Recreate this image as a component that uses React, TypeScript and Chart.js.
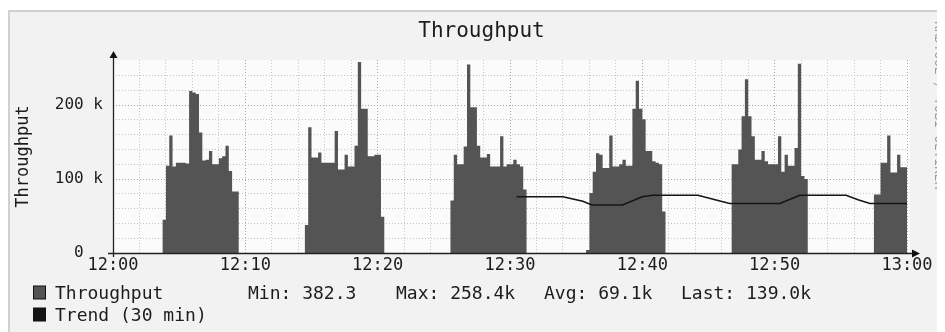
import { useEffect, useRef } from 'react';
import { Chart, registerables } from 'chart.js';

Chart.register(...registerables);

// ---- data ----
const STEP_MINUTES = 0.25; // 15 s samples from 12:00
const throughputK = [
  0, 0, 0, 0, 0, 0, 0, 0, 0, 0, 0, 0, 0, 0, 0, 0, 45, 118, 159, 117,
  122, 122, 122, 121, 219, 217, 215, 163, 125, 126, 138, 120, 120, 128, 131, 145, 111, 83, 83, 0,
  0, 0, 0, 0, 0, 0, 0, 0, 0, 0, 0, 0, 0, 0, 0, 0, 0, 0, 0, 38,
  170, 129, 129, 136, 122, 122, 122, 122, 165, 113, 113, 133, 117, 117, 145, 258.4, 195, 195, 131, 131,
  133, 133, 49, 0, 0, 0, 0, 0, 0, 0, 0, 0, 0, 0, 0, 0, 0, 0, 0, 0,
  0, 0, 0, 71, 133, 120, 120, 144, 255, 197, 197, 145, 129, 129, 134, 117, 117, 117, 158, 117,
  120, 120, 126, 120, 117, 86, 0, 0, 0, 0, 0, 0, 0, 0, 0, 0, 0, 0, 0, 0,
  0, 0, 0, 0, 4, 81, 110, 135, 133, 115, 115, 159, 117, 117, 120, 126, 118, 118, 195, 233,
  195, 181, 138, 138, 124, 122, 120, 56, 0, 0, 0, 0, 0, 0, 0, 0, 0, 0, 0, 0,
  0, 0, 0, 0, 0, 0, 0, 0, 120, 120, 140, 185, 235, 185, 158, 126, 126, 138, 124, 120,
  120, 120, 158, 110, 133, 118, 118, 142, 256, 104, 100, 0, 0, 0, 0, 0, 0, 0, 0, 0,
  0, 0, 0, 0, 0, 0, 0, 0, 0, 0, 0, 79, 79, 122, 122, 159, 109, 109, 133, 116,
  116,
];
const trendMinutes = [30.5, 34.0, 35.5, 36.2, 38.5, 40.0, 40.8, 44.2, 45.5, 46.6, 50.4, 51.9, 55.4, 56.3, 57.2, 60];
const trendK = [76, 76, 70, 65, 65, 76, 78, 78, 72, 67, 67, 78, 78, 72, 67, 67];

const xTickLabels = ['12:00', '12:10', '12:20', '12:30', '12:40', '12:50', '13:00'];
const yTickLabels = ['0  ', '100 k', '200 k'];
const chartTitle = 'Throughput';
const yAxisTitle = 'Throughput';
const seriesNames = ['Throughput', 'Trend (30 min)'];
const statLabels = ['Min: 382.3', 'Max: 258.4k', 'Avg: 69.1k', 'Last: 139.0k'];
const watermark = 'RRDTOOL / TOBI OETIKER';

// ---- styles ----
const MONO = '"DejaVu Sans Mono", monospace';
const AREA_COLOR = '#545454';
const TREND_COLOR = '#141414';
const TEXT_COLOR = '#1c1c1c';
const W = 937;
const H = 324;

const isMultiple = (v: number, m: number) => Math.abs(v / m - Math.round(v / m)) < 1e-6;

const decorPlugin = {
  id: 'decor',
  beforeDraw(chart: any) {
    const { ctx, chartArea: a } = chart;
    ctx.save();
    ctx.fillStyle = '#ffffff';
    ctx.fillRect(0, 0, W, H);
    ctx.fillStyle = '#f2f2f2';
    ctx.fillRect(0, 2, W, H - 2);
    ctx.fillStyle = '#d0d0d0';
    ctx.fillRect(0, 2, W, 2);
    ctx.fillRect(0, 2, 2, H - 2);
    ctx.fillStyle = '#fbfbfb';
    ctx.fillRect(a.left, a.top, a.right - a.left + 3, a.bottom - a.top);
    ctx.restore();
  },
  afterDraw(chart: any) {
    const { ctx, chartArea: a } = chart;
    ctx.save();
    // axes with arrow heads
    ctx.strokeStyle = '#222';
    ctx.fillStyle = '#111';
    ctx.lineWidth = 1.3;
    const yb = Math.round(a.bottom) + 0.5;
    const xl = Math.round(a.left) + 0.5;
    ctx.beginPath();
    ctx.moveTo(a.left - 5, yb);
    ctx.lineTo(a.right + 6, yb);
    ctx.stroke();
    ctx.beginPath();
    ctx.moveTo(a.right + 13, yb);
    ctx.lineTo(a.right + 5, yb - 4);
    ctx.lineTo(a.right + 5, yb + 4);
    ctx.closePath();
    ctx.fill();
    ctx.beginPath();
    ctx.moveTo(xl, a.bottom + 4);
    ctx.lineTo(xl, a.top - 4);
    ctx.stroke();
    ctx.beginPath();
    ctx.moveTo(xl, a.top - 9);
    ctx.lineTo(xl - 4, a.top - 2);
    ctx.lineTo(xl + 4, a.top - 2);
    ctx.closePath();
    ctx.fill();

    // title
    ctx.fillStyle = TEXT_COLOR;
    ctx.font = `21px ${MONO}`;
    ctx.textAlign = 'center';
    ctx.textBaseline = 'alphabetic';
    ctx.fillText(chartTitle, 473.5, 29);

    // legend
    const ds = chart.data.datasets;
    ctx.textAlign = 'left';
    ctx.font = `18px ${MONO}`;
    const rows = [290.5, 312.5];
    const boxColors = [ds[0].backgroundColor, ds[1].borderColor];
    rows.forEach((base, i) => {
      ctx.fillStyle = '#111';
      ctx.fillRect(25, base - 13, 13, 14);
      ctx.fillStyle = boxColors[i];
      ctx.fillRect(26, base - 12, 11, 12);
      ctx.fillStyle = TEXT_COLOR;
      ctx.fillText(ds[i].label, 47, base);
    });
    const statX = [240, 388, 536, 673];
    statLabels.forEach((s, i) => ctx.fillText(s, statX[i], rows[0]));

    // watermark (vertical, reading downward)
    ctx.translate(927, 13);
    ctx.rotate(Math.PI / 2);
    ctx.textAlign = 'left';
    ctx.textBaseline = 'alphabetic';
    ctx.font = `12.7px ${MONO}`;
    ctx.fillStyle = '#9c9c9c';
    ctx.fillText(watermark, 0, 0);
    ctx.restore();
  },
};

export default function App() {
  const ref = useRef<HTMLCanvasElement | null>(null);

  useEffect(() => {
    document.documentElement.style.overflow = 'hidden';
    document.body.style.overflow = 'hidden';
    if (!ref.current) return;
    const chart = new Chart(ref.current, {
      type: 'line',
      data: {
        datasets: [
          {
            label: seriesNames[0],
            data: throughputK.map((v, i) => ({ x: i * STEP_MINUTES, y: v })),
            stepped: 'after',
            fill: 'origin',
            backgroundColor: AREA_COLOR,
            borderColor: 'transparent',
            borderWidth: 0,
            pointRadius: 0,
            order: 1,
          },
          {
            label: seriesNames[1],
            data: trendMinutes.map((m, i) => ({ x: m, y: trendK[i] })),
            borderColor: TREND_COLOR,
            backgroundColor: TREND_COLOR,
            borderWidth: 1.6,
            pointRadius: 0,
            fill: false,
            tension: 0,
            order: 0,
          },
        ],
      },
      options: {
        responsive: false,
        animation: false,
        devicePixelRatio: 1,
        layout: { padding: { left: 0, right: 38, top: 52, bottom: 49 } },
        plugins: {
          legend: { display: false },
          title: { display: false },
          tooltip: { enabled: false },
        },
        scales: {
          x: {
            type: 'linear',
            min: 0,
            max: 60,
            afterFit: (s: any) => {
              s.height = 30;
            },
            ticks: {
              stepSize: 2,
              autoSkip: false,
              maxRotation: 0,
              padding: 2,
              color: TEXT_COLOR,
              font: { family: MONO, size: 17 },
              callback: (v: any) => (isMultiple(v, 10) ? xTickLabels[Math.round(v / 10)] : ''),
            },
            grid: {
              drawTicks: false,
              lineWidth: 1,
              color: (c: any) => (c.tick && isMultiple(c.tick.value, 10) ? '#a9a9a9' : '#c6c6c6'),
            },
            border: { display: false, dash: [1, 2] },
          },
          y: {
            type: 'linear',
            min: 0,
            max: 261,
            afterFit: (s: any) => {
              s.width = 105;
            },
            ticks: {
              stepSize: 20,
              includeBounds: false,
              autoSkip: false,
              padding: 10,
              color: TEXT_COLOR,
              font: { family: MONO, size: 16 },
              callback: (v: any) => (isMultiple(v, 100) ? yTickLabels[Math.round(v / 100)] : ''),
            },
            title: {
              display: true,
              text: yAxisTitle,
              color: TEXT_COLOR,
              font: { family: MONO, size: 17 },
              padding: { top: 5, bottom: 0 },
            },
            grid: {
              drawTicks: false,
              lineWidth: 1,
              color: (c: any) => {
                if (!c.tick || c.tick.value >= 259) return 'transparent';
                return isMultiple(c.tick.value, 100) ? '#a9a9a9' : '#c6c6c6';
              },
            },
            border: { display: false, dash: [1, 2] },
          },
        },
      },
      plugins: [decorPlugin],
    } as any);
    return () => chart.destroy();
  }, []);

  return (
    <div style={{ width: W, height: H }}>
      <canvas ref={ref} width={W} height={H} style={{ display: 'block', width: W, height: H }} />
    </div>
  );
}
